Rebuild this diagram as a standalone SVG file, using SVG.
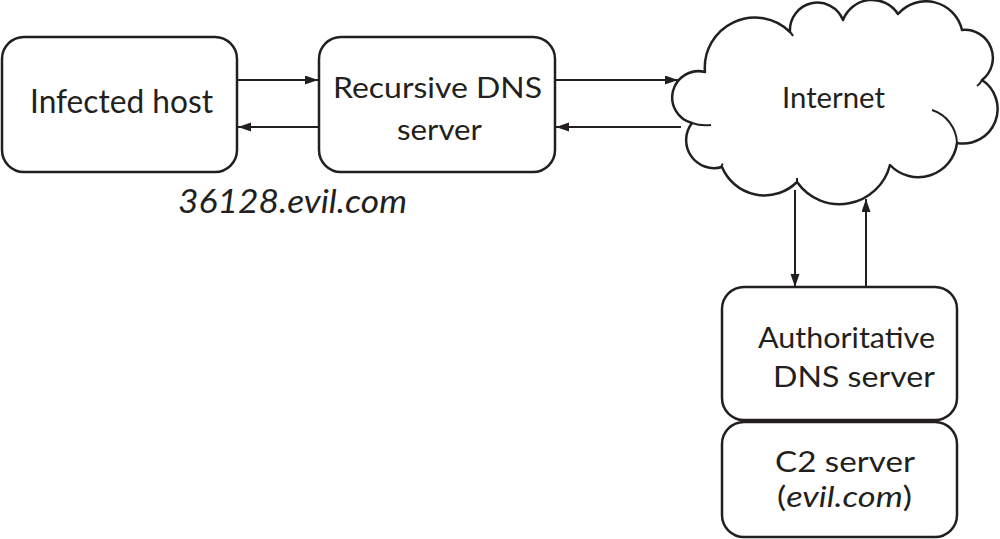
<svg xmlns="http://www.w3.org/2000/svg" width="1000" height="539" viewBox="0 0 1000 539">
<style>
.box{fill:#fff;stroke:#231f20;stroke-width:2.5}
.lbl{font-family:Lato,"Liberation Sans",sans-serif;fill:#231f20;font-size:28px}
.big{font-size:33px}
.it{font-style:italic}
.conn{stroke:#231f20;stroke-width:2;fill:none}
.cloud{fill:#fff;stroke:#231f20;stroke-width:2.5;stroke-linejoin:round}
</style>
<defs>
<marker id="ah" markerUnits="userSpaceOnUse" markerWidth="14" markerHeight="10" refX="13" refY="4.5" orient="auto">
<path d="M0,0 L13,4.5 L0,9 Z" fill="#231f20"/>
</marker>
</defs>
<rect width="1000" height="539" fill="#fff"/>
<g id="internet">
<path class="cloud" d="M705,72 A50 50 0 0 1 790,32 A27.5 27.5 0 0 1 843,20 A31 31 0 0 1 898,14 A37 37 0 0 1 962,30 A28 28 0 0 1 982,80 A34.6 34.6 0 0 1 957,143 A39 39 0 0 1 890,165 A52 52 0 0 1 797,182 A46 46 0 0 1 722,167 A28 28 0 0 1 692,123 A26 26 0 0 1 705,72 Z"/>
<path class="conn" stroke-width="2.5" d="M932,110 A36 36 0 0 1 957,143 M692,123 Q700,126 711,125 M722,167 Q721,165 723,164 M790,32 Q792,34 793,36 M982,80 Q980,84 977,86 M797,182 L797,178"/>
<text class="lbl" x="833.5" y="108" text-anchor="middle" textLength="103" lengthAdjust="spacingAndGlyphs">Internet</text>
</g>
<g id="infected-host">
<rect class="box" x="2" y="37" width="235" height="135" rx="22"/>
<text class="lbl big" x="121.5" y="113" text-anchor="middle" textLength="183" lengthAdjust="spacingAndGlyphs">Infected host</text>
</g>
<g id="recursive-dns">
<rect class="box" x="319" y="37" width="236" height="135" rx="22"/>
<text class="lbl" x="437.5" y="98" text-anchor="middle" textLength="209" lengthAdjust="spacingAndGlyphs">Recursive DNS</text>
<text class="lbl" x="439.5" y="140" text-anchor="middle" textLength="85" lengthAdjust="spacingAndGlyphs">server</text>
</g>
<g id="query-label">
<text class="lbl big it" x="292.5" y="213" text-anchor="middle" textLength="229" lengthAdjust="spacingAndGlyphs">36128.evil.com</text>
</g>
<g id="authoritative-dns">
<rect class="box" x="722" y="287" width="235" height="133" rx="22"/>
<text class="lbl" x="846.5" y="348" text-anchor="middle" textLength="177" lengthAdjust="spacingAndGlyphs">Authoritative</text>
<text class="lbl" x="854" y="387" text-anchor="middle" textLength="162" lengthAdjust="spacingAndGlyphs">DNS server</text>
</g>
<g id="c2-server">
<rect class="box" x="722" y="422" width="235" height="115" rx="22"/>
<text class="lbl" x="845" y="472" text-anchor="middle" textLength="140" lengthAdjust="spacingAndGlyphs">C2 server</text>
<text class="lbl" x="844.5" y="507" text-anchor="middle" textLength="135" lengthAdjust="spacingAndGlyphs">(<tspan class="it">evil.com</tspan>)</text>
</g>
<g id="connectors">
<line class="conn" x1="237" y1="80" x2="318" y2="80" marker-end="url(#ah)"/>
<line class="conn" x1="319" y1="127" x2="238" y2="127" marker-end="url(#ah)"/>
<line class="conn" x1="555" y1="80" x2="678" y2="80" marker-end="url(#ah)"/>
<line class="conn" x1="681" y1="127" x2="556" y2="127" marker-end="url(#ah)"/>
<line class="conn" x1="795" y1="190" x2="795" y2="287" marker-end="url(#ah)"/>
<line class="conn" x1="866" y1="287" x2="866" y2="199" marker-end="url(#ah)"/>
</g>
</svg>
